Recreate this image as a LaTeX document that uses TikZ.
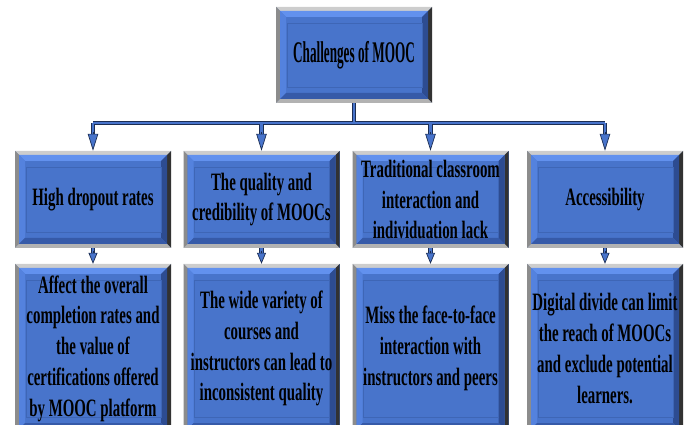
\documentclass[tikz,border=0pt]{standalone}
\usepackage{fontspec}
\newfontfamily\bodyf{Liberation Serif}[FakeStretch=0.595]
\newfontfamily\titlef{Liberation Serif}[FakeStretch=0.44]
\usetikzlibrary{arrows.meta}
\definecolor{boxblue}{RGB}{72,116,203}
\definecolor{bevtop}{RGB}{98,145,238}
\definecolor{bevleft}{RGB}{84,130,222}
\definecolor{bevright}{RGB}{45,76,145}
\definecolor{bevbot}{RGB}{54,90,168}
\definecolor{frtop}{RGB}{205,205,205}
\definecolor{frleft}{RGB}{140,140,140}
\definecolor{frright}{RGB}{50,50,50}
\definecolor{frbot}{RGB}{178,178,178}
\definecolor{innerl}{RGB}{62,102,182}
\definecolor{lineblue}{RGB}{72,116,203}
\definecolor{linedark}{RGB}{28,46,84}
\newcommand\mybevel{%
 \coordinate (nw) at (path picture bounding box.north west);
 \coordinate (ne) at (path picture bounding box.north east);
 \coordinate (sw) at (path picture bounding box.south west);
 \coordinate (se) at (path picture bounding box.south east);
 % outer grey frame
 \fill[frtop] (nw) -- (ne) -- ([shift={(-4pt,-4pt)}]ne) -- ([shift={(4pt,-4pt)}]nw) -- cycle;
 \fill[frleft] (nw) -- (sw) -- ([shift={(4pt,4pt)}]sw) -- ([shift={(4pt,-4pt)}]nw) -- cycle;
 \fill[frright] (ne) -- (se) -- ([shift={(-4pt,4pt)}]se) -- ([shift={(-4pt,-4pt)}]ne) -- cycle;
 \fill[frbot] (sw) -- (se) -- ([shift={(-4pt,4pt)}]se) -- ([shift={(4pt,4pt)}]sw) -- cycle;
 % blue bevel
 \fill[bevtop] ([shift={(4pt,-4pt)}]nw) -- ([shift={(-4pt,-4pt)}]ne) -- ([shift={(-10pt,-10pt)}]ne) -- ([shift={(10pt,-10pt)}]nw) -- cycle;
 \fill[bevleft] ([shift={(4pt,-4pt)}]nw) -- ([shift={(4pt,4pt)}]sw) -- ([shift={(10pt,10pt)}]sw) -- ([shift={(10pt,-10pt)}]nw) -- cycle;
 \fill[bevright] ([shift={(-4pt,-4pt)}]ne) -- ([shift={(-4pt,4pt)}]se) -- ([shift={(-10pt,10pt)}]se) -- ([shift={(-10pt,-10pt)}]ne) -- cycle;
 \fill[bevbot] ([shift={(4pt,4pt)}]sw) -- ([shift={(-4pt,4pt)}]se) -- ([shift={(-10pt,10pt)}]se) -- ([shift={(10pt,10pt)}]sw) -- cycle;
 % inner face outline
 \draw[innerl, line width=0.7pt] ([shift={(11pt,-16pt)}]nw) rectangle ([shift={(-10pt,16pt)}]se);
}
\tikzset{
 bev/.style={rectangle, inner sep=0pt, minimum width=156pt, fill=boxblue,
   path picture={\mybevel}, align=center, text=black},
 titlebox/.style={bev, minimum height=96pt, font=\titlef\bfseries\fontsize{30}{35}\selectfont},
 headbox/.style={bev, minimum height=97pt, font=\bodyf\bfseries\fontsize{25}{30.5}\selectfont},
 detailbox/.style={bev, minimum height=169pt, font=\bodyf\bfseries\fontsize{25}{30.8}\selectfont},
 tree/.style={draw=lineblue, line width=2.6pt, line cap=butt,
   preaction={draw=linedark, line width=4.6pt}},
 bigtip/.style={-{Triangle[length=17pt,width=10.5pt,fill=lineblue]}, draw=linedark, line width=0.7pt},
 smalltip/.style={-{Triangle[length=11pt,width=9pt,fill=lineblue]}, draw=linedark, line width=0.7pt},
}
\begin{document}
\begin{tikzpicture}[x=1pt,y=-1pt]
\useasboundingbox (0,0) rectangle (689,425);
% nodes
\node[titlebox] (top) at (354,55) {Challenges of MOOC};
\node[headbox] (b1) at (93,199.5) {High dropout rates};
\node[headbox] (b2) at (261.5,199.5) {The quality and\\credibility of MOOCs};
\node[headbox] (b3) at (430.5,199.5) {Traditional classroom\\interaction and\\individuation lack};
\node[headbox] (b4) at (605,199.5) {Accessibility};
\node[detailbox] (c1) at (93,348.5) {Affect the overall\\completion rates and\\the value of\\certifications offered\\by MOOC platform};
\node[detailbox] (c2) at (261.5,348.5) {The wide variety of\\courses and\\instructors can lead to\\inconsistent quality};
\node[detailbox] (c3) at (430.5,348.5) {Miss the face-to-face\\interaction with\\instructors and peers};
\node[detailbox] (c4) at (605,348.5) {Digital divide can limit\\the reach of MOOCs\\and exclude potential\\learners.};
% connector tree
\coordinate (hub) at (354,123);
\draw[tree] (top.south) -- (hub)
  (b1.north |- hub) -- (b4.north |- hub)
  (b1.north |- hub) -- ([yshift=15pt]b1.north)
  (b2.north |- hub) -- ([yshift=15pt]b2.north)
  (b3.north |- hub) -- ([yshift=15pt]b3.north)
  (b4.north |- hub) -- ([yshift=15pt]b4.north);
\foreach \n in {b1,b2,b3,b4}{
  \draw[bigtip] ([yshift=19pt]\n.north) -- (\n.north);
}
\foreach \a/\b in {b1/c1,b2/c2,b3/c3,b4/c4}{
  \draw[tree] (\a.south) -- ([yshift=9pt]\b.north);
  \draw[smalltip] ([yshift=13pt]\b.north) -- (\b.north);
}
\end{tikzpicture}
\end{document}
